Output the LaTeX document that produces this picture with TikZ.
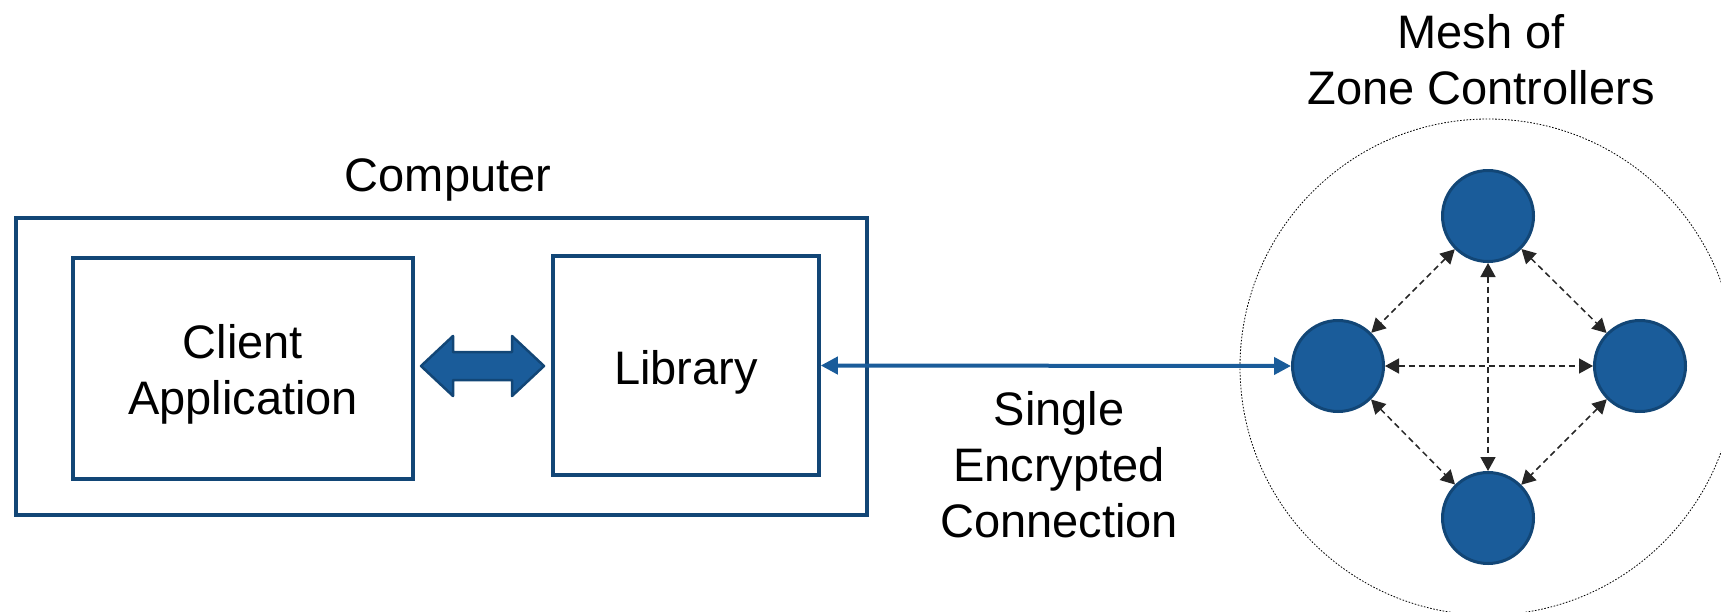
\documentclass[tikz,border=0pt]{standalone}
\usepackage{fontspec}
\setmainfont{Liberation Sans}
\usetikzlibrary{arrows.meta}
\definecolor{meshblue}{RGB}{26,92,154}
\definecolor{edgeblue}{RGB}{18,70,118}
\begin{document}
\begin{tikzpicture}[x=1pt,y=-1pt,
  lbl/.style={font=\fontsize{47}{56}\selectfont, align=center, inner sep=0pt},
  box/.style={draw=edgeblue, line width=3.5pt, inner sep=0pt},
  zc/.style={circle, fill=meshblue, draw=edgeblue, line width=3pt,
    minimum size=91pt, inner sep=0pt},
  peer/.style={draw=black!85, line width=1.5pt, dash pattern=on 6pt off 4pt,
    {Triangle[length=14pt,width=15pt]}-{Triangle[length=14pt,width=15pt]}},
  conn/.style={draw=meshblue, line width=4pt,
    {Triangle[length=17pt,width=17pt]}-{Triangle[length=17pt,width=17pt]}},
  bigarrow/.style={fill=meshblue, draw=edgeblue, line width=2.5pt, line join=round}]
\useasboundingbox (0,0) rectangle (1721,611);

% computer with its two components
\node[box, minimum width=851pt, minimum height=297pt] (computer) at (441.5,366.5) {};
\node[lbl] (computerlbl) at (448,180) {Computer};
\node[box, minimum width=340pt, minimum height=221pt] (client) at (243,368.5) {};
\node[lbl] (clientlbl) at ([yshift=-5.5pt]client.center) {Client\\Application};
\node[box, minimum width=266pt, minimum height=219pt] (lib) at (686,365.5) {};
\node[lbl] (liblbl) at ([yshift=-7pt]lib.center) {Library};

% thick two-way arrow between application and library
\draw[bigarrow] (421,366) -- (453,336) -- (453,352) -- (512,352) -- (512,336)
  -- (544,366) -- (512,396) -- (512,380) -- (453,380) -- (453,396) -- cycle;

% mesh of zone controllers
\node[circle, draw=black, line width=0.8pt, dash pattern=on 1.6pt off 1.6pt,
  minimum size=496pt, inner sep=0pt] (mesh) at (1488,367) {};
\node[lbl] (meshlbl) at (1481,60) {Mesh of\\Zone Controllers};
\node[zc] (zt) at (1488,216) {};
\node[zc] (zl) at (1338,366) {};
\node[zc] (zr) at (1640,366) {};
\node[zc] (zb) at (1488,518) {};

\draw[peer] (zt) -- (zl);
\draw[peer] (zt) -- (zr);
\draw[peer] (zl) -- (zb);
\draw[peer] (zr) -- (zb);
\draw[peer] (zt) -- (zb);
\draw[peer] (zl) -- (zr);

% the single connection from the library into the mesh
\draw[conn] (lib.east) -- (zl.west);
\node[lbl] (connlbl) at (1059,465) {Single\\Encrypted\\Connection};
\end{tikzpicture}
\end{document}
